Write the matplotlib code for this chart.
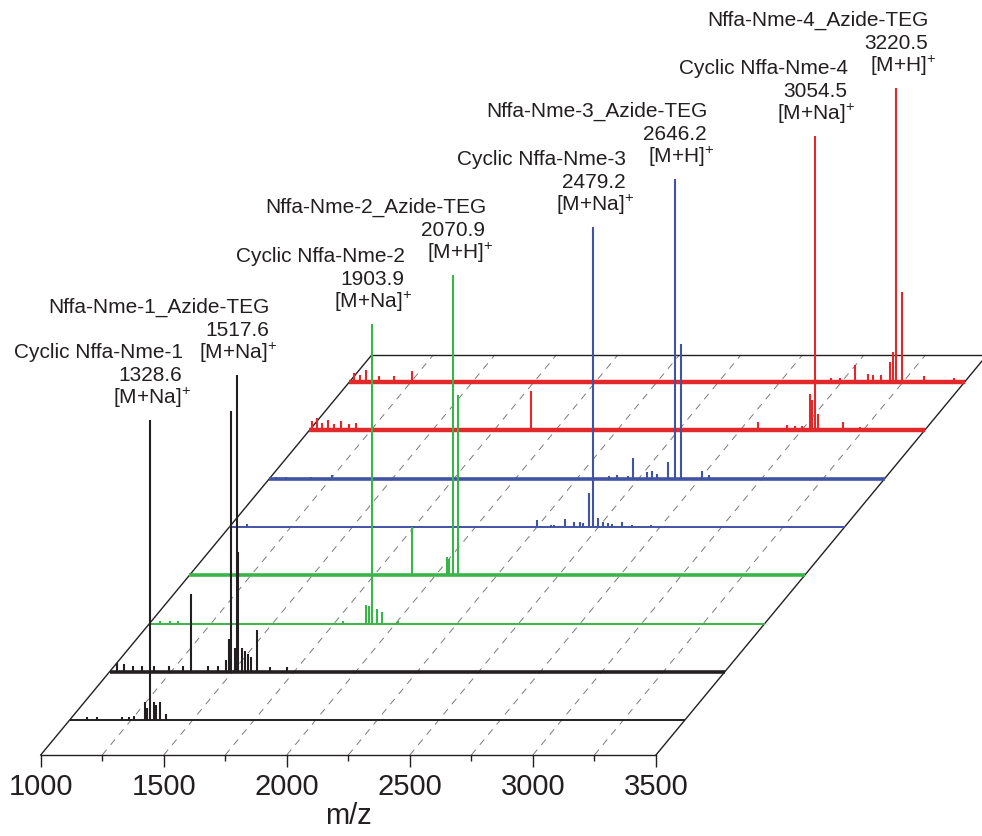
import numpy as np
import matplotlib
matplotlib.use("Agg")
import matplotlib.pyplot as plt
from matplotlib.transforms import Affine2D
from matplotlib.ticker import FixedLocator

plt.rcParams['font.family'] = ['Liberation Sans', 'DejaVu Sans']
plt.rcParams['mathtext.fontset'] = 'custom'
plt.rcParams['mathtext.rm'] = 'Liberation Sans'
plt.rcParams['mathtext.it'] = 'Liberation Sans:italic'
plt.rcParams['lines.scale_dashes'] = False

# ---------------- data (m/z, relative intensity %) ----------------
cyc1_mz = [1072, 1113, 1215, 1243, 1263, 1305, 1313.6, 1328.6, 1345, 1352, 1369, 1392]
cyc1_int = [1, 1, 1, 1, 1.5, 6, 4, 100, 6, 5, 6, 2]

az1_mz = [1030, 1060, 1095, 1130, 1180, 1240, 1300, 1332, 1400, 1440, 1474.5, 1484,
          1494.8, 1508, 1517.6, 1521, 1537, 1549, 1561, 1573, 1599, 1650, 1720]
az1_int = [3, 2.5, 2, 2, 2, 2, 2, 26, 2, 2, 4, 11,
           87, 8, 99, 40, 8, 7, 6, 5, 14, 1.5, 1.5]

cyc2_mz = [1044, 1084, 1117, 1788, 1881, 1890, 1903.9, 1924, 1944.5, 2010]
cyc2_int = [1, 1, 1, 1, 6.3, 5.7, 100, 4.7, 4, 1]

az2_mz = [1905.5, 2046.5, 2053, 2070.9, 2093]
az2_int = [16, 6, 5.3, 100, 60]

cyc3_mz = [1073, 2249, 2306, 2319, 2364, 2400, 2423.5, 2438.6, 2459, 2479.2,
           2498, 2518, 2538.5, 2556.4, 2594, 2635, 2712]
cyc3_int = [1, 2.3, 0.7, 0.7, 2.7, 1.7, 1.7, 1.3, 11.3, 100,
            3, 1.7, 1.3, 1, 1.7, 0.7, 0.7]

az3_mz = [1025, 1066, 1167, 1255, 2379, 2413.4, 2458, 2478.4, 2532.4, 2552.7,
          2575.9, 2620.6, 2646.2, 2670.6, 2758.8, 2785.6]
az3_int = [0.7, 0.7, 0.7, 1.3, 1, 1.3, 1, 7, 2.3, 2.7,
           1.7, 5.5, 100, 45, 2.7, 1.3]

cyc4_mz = [1010, 1030, 1050, 1075, 1100, 1130, 1160, 1190, 1901.3, 2824, 2939.5,
           2973, 3000.5, 3034, 3043.5, 3054.5, 3068, 3169.5, 3237]
cyc4_int = [3, 4, 2.5, 3.5, 2, 3, 2, 2.5, 13, 2.7, 1.7,
            1.3, 1.3, 12, 10, 98, 5.3, 2.7, 1]

az4_mz = [1020, 1045, 1068, 1120, 1180, 1254, 2956, 2994, 3054, 3105.5, 3125.8,
          3159.5, 3197.3, 3209.5, 3220.5, 3243.7, 3335.5, 3457.4]
az4_int = [3, 2.5, 4, 2, 2, 3.7, 1.3, 1.3, 5.7, 2.7, 2.3,
           2.3, 6.7, 10, 98, 30, 2, 1.3]

label_names = ["Cyclic Nffa-Nme-1", "Nffa-Nme-1_Azide-TEG",
               "Cyclic Nffa-Nme-2", "Nffa-Nme-2_Azide-TEG",
               "Cyclic Nffa-Nme-3", "Nffa-Nme-3_Azide-TEG",
               "Cyclic Nffa-Nme-4", "Nffa-Nme-4_Azide-TEG"]
label_mz = [1328.6, 1517.6, 1903.9, 2070.9, 2479.2, 2646.2, 3054.5, 3220.5]
label_ion = ["[M+Na]", "[M+Na]", "[M+Na]", "[M+H]",
             "[M+Na]", "[M+H]", "[M+Na]", "[M+H]"]

x_ticks = [1000, 1500, 2000, 2500, 3000, 3500]
x_minor = [1250, 1750, 2250, 2750, 3250]
grid_mz = [1250, 1500, 1750, 2000, 2250, 2500, 2750, 3000, 3250]

# ---------------- style / layout ----------------
BLACK = '#231f20'
GREEN = '#39b54a'
BLUE = '#4153a3'
RED = '#e1282a'

spectra = [
    (cyc1_mz, cyc1_int, BLACK, 1.4),
    (az1_mz, az1_int, BLACK, 2.6),
    (cyc2_mz, cyc2_int, GREEN, 1.4),
    (az2_mz, az2_int, GREEN, 2.6),
    (cyc3_mz, cyc3_int, BLUE, 1.4),
    (az3_mz, az3_int, BLUE, 2.6),
    (cyc4_mz, cyc4_int, RED, 3.2),
    (az4_mz, az4_int, RED, 3.2),
]

PX_PER_MZ = 0.2461
X0_PX = 40.7
AXIS_Y_PX = 756
FIG_W, FIG_H = 982, 837
DEPTH = 400.0
SHEAR_PX = 0.8275
S = SHEAR_PX / PX_PER_MZ
OFFSET0 = 34.9
SPACING = 48.3
INT_PX = 3.0

fig = plt.figure(figsize=(FIG_W / 100, FIG_H / 100), dpi=100)
ax = fig.add_axes([0, 0, 1, 1])
ax.patch.set_visible(False)
for s in ['left', 'right', 'top']:
    ax.spines[s].set_visible(False)

shear_tr = Affine2D(np.array([[1, S, 0], [0, 1, 0], [0, 0, 1]])) + ax.transData

# floor
ax.plot([1000, 1000], [0, DEPTH], transform=shear_tr, color=BLACK, lw=1.0, zorder=2)
ax.plot([3500, 3500], [0, DEPTH], transform=shear_tr, color=BLACK, lw=1.0, zorder=2)
ax.plot([1000, 3500], [DEPTH, DEPTH], transform=shear_tr, color=BLACK, lw=1.0, zorder=2)
for m in grid_mz:
    ax.plot([m, m], [0, DEPTH], transform=shear_tr, color='#7a7a7a', lw=0.7,
            dashes=(5, 4.5), zorder=1)

# spectra
n = len(spectra)
txt_kw = dict(textcoords='offset pixels', ha='right', va='baseline',
              fontsize=15, color=BLACK, zorder=30)
for k, (mz, inten, col, lw) in enumerate(spectra):
    d = OFFSET0 + SPACING * k
    tr = Affine2D().scale(1, INT_PX).translate(S * d, d) + ax.transData
    z = 10 + (n - k)
    ax.plot([1000, 3500], [0, 0], transform=tr, color=col, lw=lw,
            solid_capstyle='butt', zorder=z)
    ax.vlines(mz, 0, inten, transform=tr, colors=col, lw=1.5, zorder=z)
    i = mz.index(label_mz[k])
    xy = (mz[i], inten[i])
    ax.annotate(label_names[k], xy=xy, xycoords=tr, xytext=(33, 63), **txt_kw)
    ax.annotate(f"{label_mz[k]:.1f}", xy=xy, xycoords=tr, xytext=(32, 40), **txt_kw)
    ax.annotate(label_ion[k] + "$^{+}$", xy=xy, xycoords=tr, xytext=(40, 17),
                **txt_kw)

ax.set_xlim(1000 - X0_PX / PX_PER_MZ, 1000 + (FIG_W - X0_PX) / PX_PER_MZ)
ax.set_ylim(AXIS_Y_PX - FIG_H, AXIS_Y_PX)

ax.spines['bottom'].set_position(('data', 0))
ax.spines['bottom'].set_bounds(1000, 3500)
ax.spines['bottom'].set_linewidth(1.0)
ax.spines['bottom'].set_color(BLACK)
ax.set_yticks([])
ax.xaxis.set_major_locator(FixedLocator(x_ticks))
ax.xaxis.set_minor_locator(FixedLocator(x_minor))
ax.set_xticklabels([str(t) for t in x_ticks])
ax.tick_params(axis='x', which='major', direction='out', length=8.6, width=1.0,
               labelsize=21, pad=3.5, colors=BLACK)
ax.tick_params(axis='x', which='minor', direction='out', length=4.3, width=1.0,
               colors=BLACK)
ax.set_xlabel('m/z', fontsize=21, color=BLACK)
ax.xaxis.set_label_coords(2250, -46, transform=ax.transData)

fig.savefig('out.png', dpi=100)
